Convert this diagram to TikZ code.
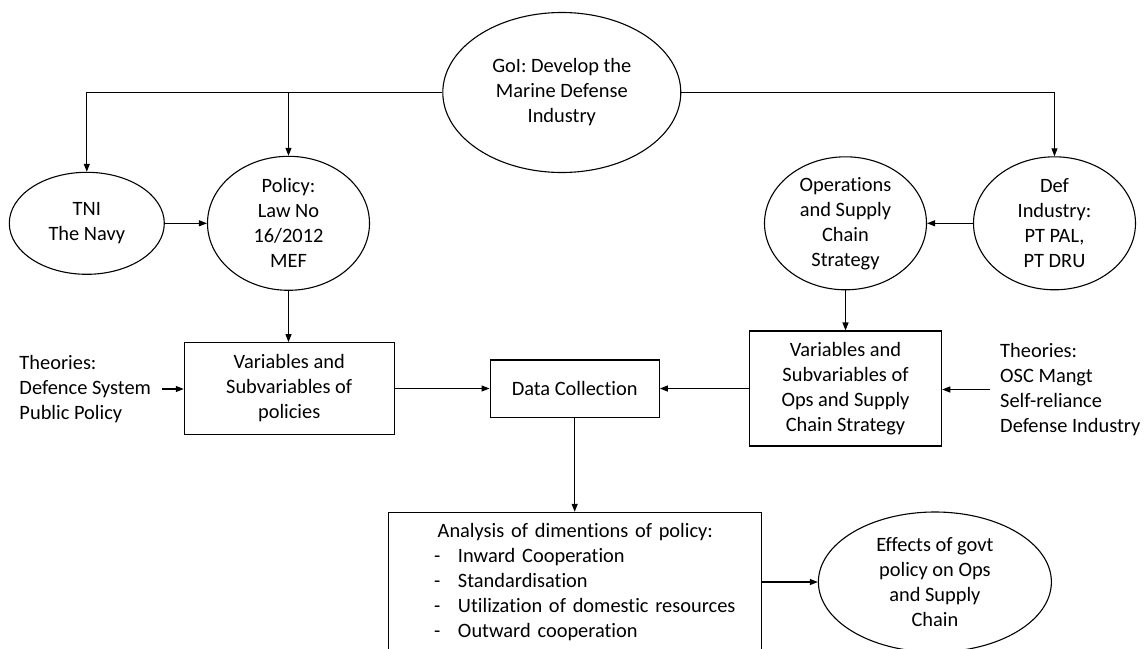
\documentclass[tikz,border=0pt]{standalone}
\usepackage{fontspec}
\setmainfont{Carlito}[Ligatures=NoCommon]
\usetikzlibrary{shapes.geometric,arrows.meta}
\begin{document}
\begin{tikzpicture}[x=1pt,y=-1pt,
  every node/.style={font=\fontsize{20.4}{25}\selectfont},
  ell/.style={draw, ellipse, inner sep=0pt, align=center, line width=1.1pt},
  box/.style={draw, rectangle, inner sep=0pt, align=center, line width=1.1pt},
  arr/.style={line width=1.1pt, -{Triangle[length=8pt,width=6pt]}},
  theo/.style={align=left, inner ysep=0pt}]
\clip (0,0) rectangle (1146,648);
\fill[white] (0,0) rectangle (1146,648);

\node[ell, minimum width=238pt, minimum height=160pt] (goi) at (561.8,92.5) {GoI: Develop the\\Marine Defense\\Industry};
\node[ell, minimum width=155pt, minimum height=102pt] (tni) at (86.8,223.3) {TNI\\The Navy};
\node[ell, minimum width=162pt, minimum height=134pt] (pol) at (288.5,223.3) {Policy:\\Law No\\16/2012\\MEF};
\node[ell, minimum width=162pt, minimum height=133pt] (ops) at (845.5,223.3) {Operations\\and Supply\\Chain\\Strategy};
\node[ell, minimum width=162pt, minimum height=133pt] (def) at (1054.5,223.3) {Def\\Industry:\\PT PAL,\\PT DRU};

\node[box, minimum width=209.7pt, minimum height=91.7pt] (varp) at (289.2,388.5) {Variables and\\Subvariables of\\policies};
\node[box, minimum width=169.3pt, minimum height=57.7pt] (data) at (574.7,388.8) {Data Collection};
\node[box, minimum width=192.4pt, minimum height=115pt] (varo) at (845.5,388.5) {Variables and\\Subvariables of\\Ops and Supply\\Chain Strategy};

\node[box, minimum width=373pt, minimum height=139.4pt, text width=373pt, align=left] (ana) at (575.2,582)
 {\hspace*{49pt}Analysis of dimentions of policy:\\
  \hspace*{45.3pt}\makebox[24pt][l]{-}Inward Cooperation\\
  \hspace*{45.3pt}\makebox[24pt][l]{-}Standardisation\\
  \hspace*{45.3pt}\makebox[24pt][l]{-}Utilization of domestic resources\\
  \hspace*{45.3pt}\makebox[24pt][l]{-}Outward cooperation};
\node[ell, minimum width=233pt, minimum height=140pt] (eff) at (934.9,582) {Effects of govt\\policy on Ops\\and Supply\\Chain};

\node[theo, anchor=west, inner xsep=11pt] (thl) at (8.3,389) {Theories:\\Defence System\\Public Policy};
\node[theo, anchor=west, inner xsep=10pt] (thr) at (990,389.5) {Theories:\\OSC Mangt\\Self-reliance\\Defense Industry};

\draw[arr] (goi.west) -| (tni.north);
\coordinate (j) at (pol.north |- goi.west);
\draw[arr] (j) -- (pol.north);
\draw[arr] (goi.east) -| (def.north);
\draw[arr] (tni.east) -- (pol.west);
\draw[arr] (def.west) -- (ops.east);
\draw[arr] (pol.south) -- (pol.south |- varp.north);
\draw[arr] (ops.south) -- (varo.north);
\draw[arr] (thl.east) -- (thl.east -| varp.west);
\draw[arr] (varp.east) -- (varp.east -| data.west);
\draw[arr] (varo.west) -- (varo.west -| data.east);
\draw[arr] (thr.west) -- (thr.west -| varo.east);
\draw[arr] (data.south) -- (data.south |- ana.north);
\draw[arr] (ana.east) -- (ana.east -| eff.west);
\end{tikzpicture}
\end{document}
